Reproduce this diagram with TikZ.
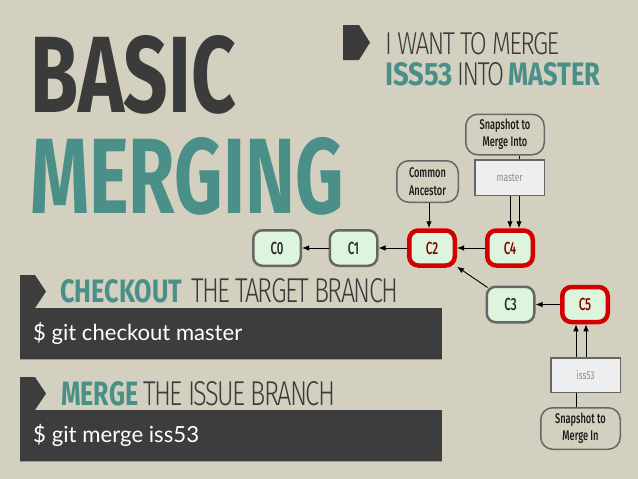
\documentclass[tikz,border=0pt]{standalone}
\usepackage{fontspec}
\usetikzlibrary{arrows.meta}
\setmainfont{Fira Sans}
\newfontfamily\cond[FakeStretch=0.72]{Fira Sans}
\newfontfamily\condl[FakeStretch=0.62,LetterSpace=-4]{Fira Sans Light}
\newfontfamily\condm[FakeStretch=0.66]{Fira Sans Medium}
\newfontfamily\termf{Lato}
\definecolor{bg}{HTML}{D4D0C0}
\definecolor{dark}{HTML}{3B3B3B}
\definecolor{teal}{HTML}{4A9088}
\definecolor{barc}{HTML}{3D3D3D}
\definecolor{cgrey}{HTML}{666666}
\definecolor{cfill}{HTML}{DDF5DD}
\definecolor{cred}{HTML}{D40000}
\definecolor{cdred}{HTML}{8B0000}
\definecolor{boxfill}{HTML}{EEEEEE}
\tikzset{
  txt/.style={anchor=base west, inner sep=0pt},
  commit/.style={rectangle, rounded corners=9pt, draw=cgrey, fill=cfill, line width=2.5pt,
    minimum width=47.5pt, minimum height=35.5pt, inner sep=0pt,
    font=\condm\fontsize{17.5}{17.5}\selectfont, text=black!85},
  redc/.style={commit, draw=cred, line width=4.5pt, minimum width=45.5pt, minimum height=35pt, text=cdred},
  lbl/.style={rectangle, rounded corners=12pt, draw=cgrey, line width=1.5pt, align=center,
    inner sep=0pt, font=\condm\fontsize{14}{17.5}\selectfont, text=black!90},
  branch/.style={rectangle, draw=cgrey, fill=boxfill, line width=1.5pt, inner sep=0pt,
    font=\cond\fontsize{11.5}{11.5}\selectfont, text=black!45},
  arr/.style={-{Latex[length=7pt,width=5.5pt]}, line width=0.9pt, black},
  ln/.style={line width=0.9pt, black}
}
\begin{document}
\begin{tikzpicture}[x=1pt,y=-1pt]
\fill[bg] (0,0) rectangle (638,479);
\useasboundingbox (0,0) rectangle (638,479);

% Title
\node[txt, text=dark] (basic) at (30,112) {\resizebox{206pt}{77pt}{\cond\bfseries BASIC}};
\node[txt, text=teal] (merging) at (30,213) {\resizebox{313pt}{76pt}{\cond\bfseries MERGING}};

% Top right heading
\fill[dark] (343,25) -- (359,25) -- (370,42.5) -- (359,60) -- (343,60) -- cycle;
\node[txt, text=dark] (want) at (385,54) {\resizebox{174pt}{22pt}{\condl I WANT TO MERGE}};
\node[txt, text=teal] (iss) at (385,85) {\resizebox{68pt}{23pt}{\cond\bfseries ISS53}};
\node[txt, text=dark] (intow) at (457,85) {\resizebox{47pt}{23pt}{\condl INTO}};
\node[txt, text=teal] (mast) at (508,85) {\resizebox{92pt}{23pt}{\cond\bfseries MASTER}};

% Checkout section
\fill[barc] (20,275) -- (35,275) -- (46,291.5) -- (35,308) -- (20,308) -- cycle;
\node[txt, text=teal] (chk) at (60,302) {\resizebox{122pt}{23pt}{\cond\bfseries CHECKOUT}};
\node[txt, text=dark] (chk2) at (191,302) {\resizebox{207pt}{24pt}{\condl THE TARGET BRANCH}};
\fill[barc] (20,308) rectangle (442,359);
\draw[line width=1pt, black!40] (20,359.5) -- (442,359.5);
\node[txt, text=white] (cmd1) at (33,340) {\resizebox{209pt}{!}{\termf \$ git checkout master}};

% Merge section
\fill[barc] (20,377) -- (35,377) -- (46,393.5) -- (35,410) -- (20,410) -- cycle;
\node[txt, text=teal] (mrg) at (61,405) {\resizebox{77pt}{24pt}{\cond\bfseries MERGE}};
\node[txt, text=dark] (mrg2) at (143,405) {\resizebox{192pt}{24pt}{\condl THE ISSUE BRANCH}};
\fill[barc] (20,410) rectangle (442,461);
\draw[line width=1pt, black!40] (20,461.5) -- (442,461.5);
\node[txt, text=white] (cmd2) at (33,442) {\resizebox{166pt}{!}{\termf \$ git merge iss53}};

% Commits
\node[commit] (C0) at (277,248) {C0};
\node[commit] (C1) at (353.5,248) {C1};
\node[redc] (C2) at (432,248) {C2};
\node[redc] (C4) at (510,248) {C4};
\node[commit] (C3) at (510.5,304.5) {C3};
\node[redc] (C5) at (585,304.5) {C5};

\draw[arr] (C1) -- (C0);
\draw[arr] (C2) -- (C1);
\draw[arr] (C4) -- (C2);
\draw[arr] (C5) -- (C3);
\draw[arr] ([shift={(2,2)}]C3.north west) -- ([shift={(0,-1)}]C2.south east);

% Labels
\node[lbl, minimum width=78.5pt, minimum height=40.5pt] (snapinto) at (505,134.5) {Snapshot to\\Merge Into};
\node[branch, minimum width=69.5pt, minimum height=35.5pt] (master) at (509.5,177.5) {master};
\node[lbl, minimum width=61.5pt, minimum height=41.5pt] (anc) at (427.5,181.5) {Common\\Ancestor};
\node[branch, minimum width=69.5pt, minimum height=34.5pt] (iss53) at (585.5,375) {iss53};
\node[lbl, minimum width=79.5pt, minimum height=41.5pt] (mergein) at (580.5,428.5) {Snapshot to\\Merge In};

\draw[ln] (snapinto.south -| 519,0) -- (master.north -| 519,0);
\draw[arr] (master.south -| 510,0) -- (C4.north -| 510,0);
\draw[arr] (master.south -| 519,0) -- (C4.north -| 519,0);
\draw[arr] (anc.south -| 429,0) -- (C2.north -| 429,0);
\draw[arr] (iss53.north -| 576,0) -- (C5.south -| 576,0);
\draw[arr] (iss53.north -| 586,0) -- (C5.south -| 586,0);
\draw[ln] (iss53.south -| 576,0) -- (mergein.north -| 576,0);
\end{tikzpicture}
\end{document}
